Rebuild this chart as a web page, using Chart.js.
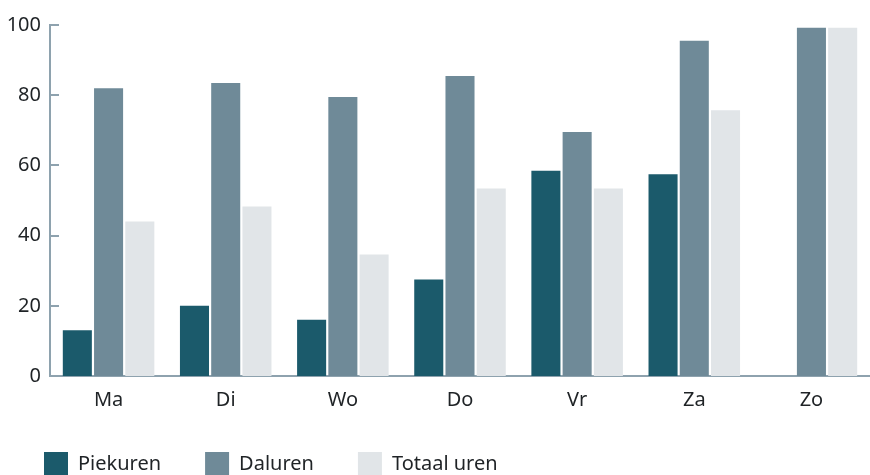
<!DOCTYPE html>
<html>
<head>
<meta charset="utf-8">
<script src="https://cdn.jsdelivr.net/npm/chart.js@4/dist/chart.umd.min.js"></script>
<style>
  html, body { margin: 0; padding: 0; background: #fff; overflow: hidden; }
  #wrap { width: 870px; height: 475px; overflow: hidden; }
</style>
</head>
<body>
<div id="wrap"><canvas id="chart" width="870" height="486"></canvas></div>
<script>
// Data
const days = ['Ma', 'Di', 'Wo', 'Do', 'Vr', 'Za', 'Zo'];
const piekuren = [13, 20, 16, 27.5, 58.5, 57.5, 0];
const daluren = [82, 83.5, 79.5, 85.5, 69.5, 95.5, 99.2];
const totaalUren = [44, 48.3, 34.6, 53.4, 53.4, 75.7, 99.2];
const yTicks = [0, 20, 40, 60, 80, 100];

const axisColor = '#8ea2ae';
const textColor = '#1f2326';
const fontFamily = '"Noto Sans", "Open Sans", sans-serif';

// short tick marks that point into the plot area
const innerTicks = {
    id: 'innerTicks',
    afterDraw(chart) {
        const { ctx, scales: { y } } = chart;
        ctx.save();
        ctx.strokeStyle = axisColor;
        ctx.lineWidth = 2;
        yTicks.forEach((v) => {
            const py = Math.round(y.getPixelForValue(v));
            ctx.beginPath();
            ctx.moveTo(y.right, py);
            ctx.lineTo(y.right + 9, py);
            ctx.stroke();
        });
        ctx.restore();
    },
};

const bar = (label, data, color) => ({
    label,
    data,
    backgroundColor: color,
    borderWidth: 0,
    categoryPercentage: 0.8,
    barPercentage: 0.93,
});

new Chart(document.getElementById('chart'), {
    type: 'bar',
    data: {
        labels: days,
        datasets: [
            bar('Piekuren', piekuren, '#1b5a6b'),
            bar('Daluren', daluren, '#6f8a98'),
            bar('Totaal uren', totaalUren, '#e1e5e8'),
        ],
    },
    plugins: [innerTicks],
    options: {
        responsive: false,
        animation: false,
        layout: { padding: { top: 25, right: 0, left: 0, bottom: 0 } },
        plugins: {
            tooltip: { enabled: false },
            legend: {
                position: 'bottom',
                align: 'start',
                labels: {
                    boxWidth: 24,
                    boxHeight: 24,
                    padding: 44,
                    color: textColor,
                    font: { family: fontFamily, size: 20 },
                },
            },
        },
        scales: {
            x: {
                afterFit: (scale) => { scale.height = 32; },
                grid: { display: false, drawTicks: false },
                border: { display: true, color: axisColor, width: 2 },
                ticks: {
                    color: textColor,
                    font: { family: fontFamily, size: 20 },
                    padding: 12,
                },
            },
            y: {
                min: 0,
                max: 100,
                afterFit: (scale) => { scale.width = 50; },
                afterBuildTicks: (scale) => {
                    scale.ticks = yTicks.map((v) => ({ value: v }));
                },
                grid: { display: false, drawTicks: false },
                border: { display: true, color: axisColor, width: 2 },
                ticks: {
                    color: textColor,
                    font: { family: fontFamily, size: 20 },
                    padding: 9,
                },
            },
        },
    },
});
</script>
</body>
</html>
